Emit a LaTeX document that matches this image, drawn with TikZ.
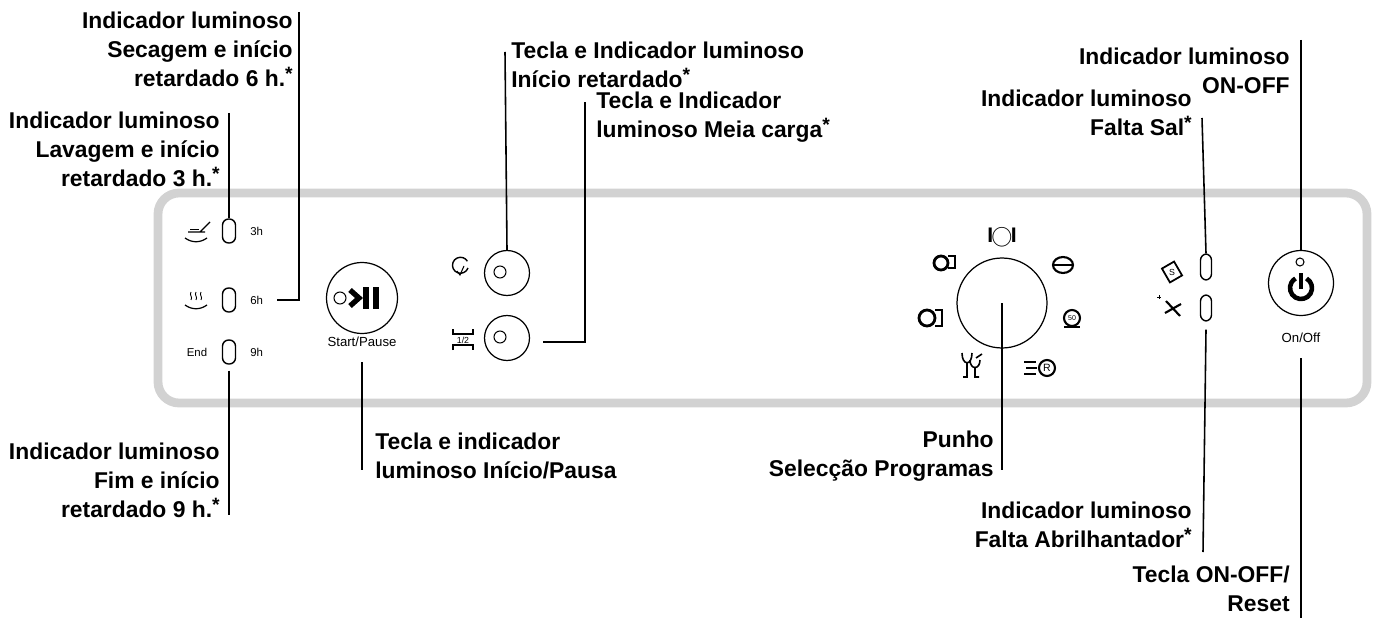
\documentclass[tikz,border=0pt]{standalone}
\usepackage{fontspec}
\setmainfont{Liberation Sans}
\newcommand{\myast}{\smash{\raisebox{0.5ex}{\fontsize{11}{11}\selectfont *}}}
\begin{document}
\begin{tikzpicture}[x=0.02cm,y=-0.02cm,
  lbl/.style={font=\fontsize{13}{16.5}\selectfont\bfseries,inner sep=0pt,align=right},
  lbll/.style={lbl,align=left},
  lead/.style={line width=0.9pt,black},
  led/.style={draw,line width=0.8pt,rounded corners=3.5pt,minimum width=0.26cm,minimum height=0.48cm,inner sep=0pt},
  btn/.style={draw,circle,line width=0.7pt,inner sep=0pt},
  small/.style={font=\fontsize{6.5}{8}\selectfont,inner sep=0pt},
  ic/.style={line width=1pt}]
\useasboundingbox (0,0) rectangle (1379,618);
% panel
\draw[gray!35,line width=5pt,rounded corners=12pt] (158,193) rectangle (1367,403);
% left LEDs
\node[led] (l3) at (229,231) {};
\node[led] (l6) at (229,300) {};
\node[led] (l9) at (229,352) {};
\node[small,anchor=west] at (250,231) {3h};
\node[small,anchor=west] at (250,300) {6h};
\node[small,anchor=west] at (250,352) {9h};
\node[small] at (197,352) {End};
% wash icon
\draw[ic,line width=0.7pt] (185,238) .. controls (192,243) and (200,243) .. (207,238);
\draw[ic,line width=0.7pt] (188,232) -- (205,232) (200,232) -- (210,222);
\draw[line width=0.5pt] (190,229)--(199,229);
% dry icon
\draw[ic,line width=0.7pt] (185,305) .. controls (192,310) and (200,310) .. (207,305);
\foreach \x in {191,196,201}\draw[line width=0.5pt] (\x,300) .. controls (\x+2,297) and (\x-2,295) .. (\x,292);
% labels left
\node[lbl,anchor=north east] (tdry) at (293,12) {Indicador luminoso\\Secagem e início\\retardado 6 h.\myast};
\node[lbl,anchor=north east] (twash) at (220,112) {Indicador luminoso\\Lavagem e início\\retardado 3 h.\myast};
\node[lbl,anchor=north east] (tend) at (220,443) {Indicador luminoso\\Fim e início\\retardado 9 h.\myast};
\coordinate (c1) at (229,113);
\draw[lead] (c1) -- (l3.north);
\coordinate (c2) at (299,12); \coordinate (c2b) at (299,300); \coordinate (c2c) at (277,300);
\draw[lead] (c2) -- (c2b) -- (c2c);
\coordinate (c3) at (229,515);
\draw[lead] (l9.south) ++(0,6) -- (c3);
% start/pause
\node[btn,minimum size=1.42cm] (sp) at (362,298) {};
\draw[line width=0.6pt] (340,298) circle (6);
\draw[line width=3pt] (350,290) -- (359,298) -- (350,306);
\draw[line width=3pt] (366,287) -- (366,309) (376,287) -- (376,309);
\node[small,font=\fontsize{7.5}{9}\selectfont] (spl) at (362,342) {Start/Pause};
\coordinate (c4) at (362,470);
\draw[lead] (362,362) -- (c4);
\node[lbll,anchor=north west] (tsp) at (375,433) {Tecla e indicador\\luminoso Início/Pausa};
% delay button
\node[btn,minimum size=0.9cm] (del) at (507,273) {};
\draw[line width=0.6pt] (500,272) circle (6);
\draw[line width=0.8pt] (468,268) arc (20:330:8);
\draw[line width=0.6pt] (457,271)--(460,275)--(464,266);
\coordinate (c5) at (505,52);
\draw[lead] (c5) -- (del.north);
\node[lbll,anchor=north west] (tdel) at (511,42) {Tecla e Indicador luminoso\\Início retardado\myast};
% half load
\node[btn,minimum size=0.9cm] (half) at (507,338) {};
\draw[line width=0.6pt] (500,337) circle (6);
\draw[line width=0.8pt] (453,329) -- (453,334) -- (473,334) -- (473,329);
\draw[line width=0.8pt] (453,350) -- (453,345) -- (473,345) -- (473,350);
\node[small,font=\fontsize{5}{6}\selectfont] at (463,340) {1/2};
\coordinate (c6a) at (543,342); \coordinate (c6b) at (585,342); \coordinate (c6c) at (585,102);
\draw[lead] (c6a) -- (c6b) -- (c6c);
\node[lbll,anchor=north west] (thalf) at (596,92) {Tecla e Indicador\\luminoso Meia carga\myast};
% dial
\node[btn,minimum size=1.8cm] (dial) at (1002,303) {};
\node[inner sep=0pt] at (1002,237) {\fontsize{12}{12}\selectfont\bfseries I\hspace{-1pt}$\bigcirc$\hspace{-1pt}I};
\draw[line width=1.6pt] (941,263) circle (7); \draw[line width=1pt] (948,256) -- (955,256) -- (955,268) -- (948,268);
\draw[line width=1.6pt] (927,318) circle (8); \draw[line width=1pt] (935,310) -- (942,310) -- (942,326) -- (935,326);
\draw[line width=1.2pt] (1063,265) ellipse (10 and 8); \draw[line width=0.8pt] (1053,265) -- (1073,265);
\draw[line width=1.2pt] (1072,318) circle (8); \draw[line width=1pt] (1064,327) -- (1080,327);
\node[inner sep=0pt,font=\fontsize{4}{4}\selectfont] at (1072,318) {50};
\draw[line width=1.2pt] (1047,368) circle (8); \node[inner sep=0pt,font=\fontsize{6}{6}\selectfont] at (1047,368) {R};
\draw[line width=0.9pt] (1024,362)--(1036,362) (1026,368)--(1037,368) (1024,374)--(1036,374);
\draw[line width=0.9pt] (962,353) .. controls (962,366) and (972,366) .. (972,353) (967,363)--(967,377)--(963,377)
 (970,360) .. controls (970,370) and (980,370) .. (980,360) (975,367)--(975,377)--(979,377) (976,358)--(982,354);
\coordinate (c7) at (1002,470);
\draw[lead] (dial.center) -- (c7);
\node[lbl,anchor=north east] (tdial) at (994,431) {Punho\\Selecção Programas};
% salt / rinse LEDs
\node[led,minimum width=0.22cm,minimum height=0.52cm] (salt) at (1206,267) {};
\node[led,minimum width=0.22cm,minimum height=0.52cm] (rinse) at (1206,308) {};
\draw[line width=1pt,rotate around={30:(1172,272)}] (1165,264) rectangle (1179,280);
\node[inner sep=0pt,font=\fontsize{5}{5}\selectfont] at (1172,272) {S};
\draw[line width=1.2pt] (1166,301) -- (1180,316) (1165,313) -- (1181,304);
\draw[line width=0.5pt] (1157,297)--(1161,297) (1159,295)--(1159,299);
\coordinate (c8) at (1202,118);
\draw[lead] (c8) -- (salt.north);
\node[lbl,anchor=north east] (tsalt) at (1192,90) {Indicador luminoso\\Falta Sal\myast};
\coordinate (c9) at (1203,552);
\draw[lead] (rinse.south) ++(0,8) -- (c9);
\node[lbl,anchor=north east] (trinse) at (1192,502) {Indicador luminoso\\Falta Abrilhantador\myast};
% on/off
\node[btn,minimum size=1.3cm] (on) at (1301,283) {};
\draw[line width=0.6pt] (1300,262) circle (4);
\draw[line width=2.6pt] (1301,288) ++(-60:11) arc (-60:240:11);
\draw[line width=2.6pt] (1301,273) -- (1301,289);
\node[small,font=\fontsize{7.5}{9}\selectfont] (onl) at (1301,338) {On/Off};
\coordinate (c11) at (1301,618);
\coordinate (c10) at (1301,40);
\draw[lead] (c10) -- (on.north);
\node[lbl,anchor=north east] (ton) at (1290,48) {Indicador luminoso\\ON-OFF};
\draw[lead] (1301,358) -- (c11);
\node[lbl,anchor=north east] (treset) at (1290,566) {Tecla ON-OFF/\\Reset};
\end{tikzpicture}
\end{document}
